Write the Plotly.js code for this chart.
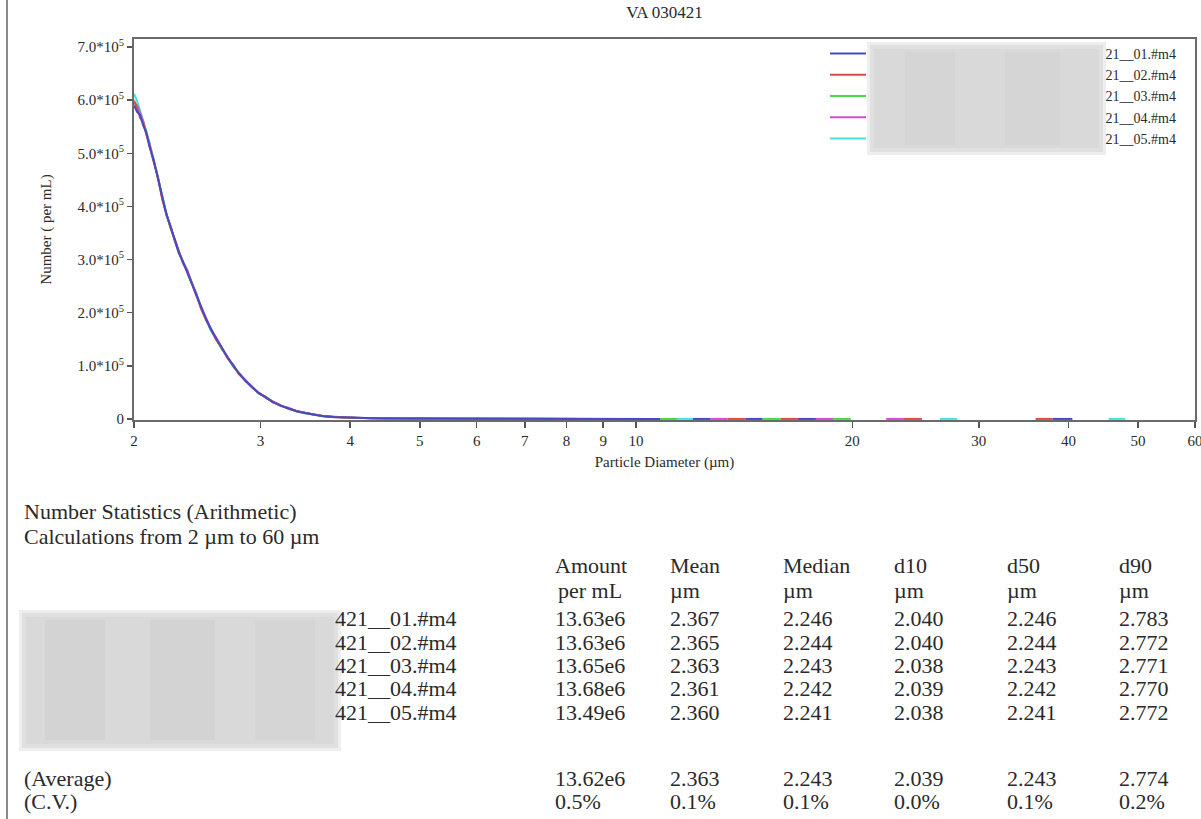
<!DOCTYPE html>
<html>
<head>
<meta charset="utf-8">
<script src="https://cdn.plot.ly/plotly-3.0.1.min.js"></script>
<style>html,body{margin:0;padding:0;background:#fff;}#chart{width:1201px;height:819px;}</style>
</head>
<body>
<div id="chart"></div>
<script>
// ---------- data ----------
const chartTitle = "VA 030421";
const diameters = [2.00,2.02,2.04,2.06,2.08,2.10,2.13,2.16,2.19,2.22,2.25,2.28,2.31,2.34,2.37,2.40,2.44,2.48,2.52,2.56,2.60,2.65,2.70,2.75,2.80,2.86,2.92,2.98,3.05,3.12,3.20,3.28,3.37,3.46,3.56,3.67,3.80,3.95,4.10,4.30,4.50,4.75,5.00,5.30,5.60,6.00,6.40,6.80,7.30,7.80,8.40,9.00,9.60,10.2,
  10.8,11.4,12.0,12.7,13.4,14.2,15.0,15.9,16.8,17.8,18.8,19.9,21,22.3,23.6,25,26.5,28,30,32,34,36,38,40.5,43,45.5,48,51,54,57,60];

const run01 = [590000,578000,572000,552000,540000,514000,487000,450000,416000,384000,361000,335000,312000,296000,277000,260000,235000,209000,188000,168000,153000,132000,116000,100000,86000,72000,60000,49000,41000,32000,25000,20000,14500,11000,8000,5200,3600,2500,1800,1300,1000,900,1100,600,400,300,250,200,150,100,80,60,40,30,
  0,null,0,0,null,0,0,null,0,0,null,null,null,null,null,null,null,null,null,null,null,null,0,0,null,null,null,null,null,null,null];
const run02 = [598000,586000,566000,558000,536000,518000,484000,454000,413000,387000,358000,338000,316000,293000,280000,262000,236000,207000,186000,170000,150000,134000,115000,101000,84000,73000,59000,50000,40000,33000,26000,19000,15000,11500,8500,5500,3400,2600,1700,1200,1100,800,800,600,450,300,200,200,150,100,50,null,50,null,
  null,null,null,null,0,0,null,0,0,null,null,null,null,null,0,0,null,null,null,null,null,0,0,null,null,null,null,null,null,null,null];
const run03 = [600000,584000,570000,556000,542000,516000,489000,452000,418000,385000,360000,336000,311000,297000,276000,258000,238000,210000,187000,167000,152000,131000,117000,99000,87000,71000,61000,48000,42000,32000,25000,20000,14000,10500,7800,5000,3700,2400,1900,1300,900,900,900,500,400,250,250,150,100,100,80,50,null,30,
  0,0,null,null,null,null,0,0,null,null,0,0,null,null,null,null,null,null,null,null,null,null,null,null,null,null,null,null,null,null,null];
const run04 = [596000,590000,575000,560000,538000,520000,486000,455000,415000,383000,362000,334000,314000,295000,282000,261000,233000,211000,190000,169000,154000,135000,114000,102000,85000,72000,60000,49000,41000,31000,25000,21000,14500,11000,8200,5300,3500,2500,1800,1400,1000,800,800,700,350,300,200,200,150,100,50,60,40,null,
  null,null,null,0,0,null,null,null,null,0,0,null,null,0,0,null,null,null,null,null,null,null,null,null,null,null,null,null,null,null,null];
const run05 = [612000,598000,580000,562000,544000,522000,488000,453000,417000,386000,359000,337000,313000,294000,278000,259000,237000,208000,185000,166000,151000,133000,116000,98000,86000,71000,59000,49000,40000,32000,24000,20000,14000,11000,8000,5100,3600,2600,1700,1200,1000,900,700,600,400,300,200,150,100,100,80,null,50,30,
  null,0,0,null,null,null,null,null,null,null,null,null,null,null,null,null,0,0,null,null,null,null,null,null,null,0,0,null,null,null,null];

const seriesNames = ["21__01.#m4","21__02.#m4","21__03.#m4","21__04.#m4","21__05.#m4"];
const seriesValues = [run01, run02, run03, run04, run05];
const seriesColors = ["#4848c8","#e04848","#48d848","#d848d8","#48e0e0"];

const yTickVals = [0,100000,200000,300000,400000,500000,600000,700000];
const yTickText = ["0","1.0*10<sup>5</sup>","2.0*10<sup>5</sup>","3.0*10<sup>5</sup>","4.0*10<sup>5</sup>","5.0*10<sup>5</sup>","6.0*10<sup>5</sup>","7.0*10<sup>5</sup>"];
const xTickVals = [2,3,4,5,6,7,8,9,10,20,30,40,50,60];
const xTickText = ["2","3","4","5","6","7","8","9","10","20","30","40","50","60"];

// statistics table
const statsTitle = "Number Statistics (Arithmetic)";
const statsRange = "Calculations from 2 µm to 60 µm";
const colHeaders = ["Amount","Mean","Median","d10","d50","d90"];
const colUnits = ["per mL","µm","µm","µm","µm","µm"];
const rowLabels = ["421__01.#m4","421__02.#m4","421__03.#m4","421__04.#m4","421__05.#m4"];
const amounts = ["13.63e6","13.63e6","13.65e6","13.68e6","13.49e6"];
const means   = ["2.367","2.365","2.363","2.361","2.360"];
const medians = ["2.246","2.244","2.243","2.242","2.241"];
const d10s    = ["2.040","2.040","2.038","2.039","2.038"];
const d50s    = ["2.246","2.244","2.243","2.242","2.241"];
const d90s    = ["2.783","2.772","2.771","2.770","2.772"];
const averageRow = ["13.62e6","2.363","2.243","2.039","2.243","2.774"];
const cvRow      = ["0.5%","0.1%","0.1%","0.0%","0.1%","0.2%"];

// ---------- layout helpers ----------
const W = 1201, H = 819;
const PL = 134, PR = 1195, PT = 39, PB = 420;
const px = x => (x - PL) / (PR - PL);
const py = y => (PB - y) / (PB - PT);
const SERIF = "Liberation Serif, Times New Roman, serif";
const TXT = "#2a2a2a";
const NB = "\u00A0";
const legendPad = NB.repeat(67);

// traces: draw 05 first so that 01 (blue) is on top
const traces = [];
for (let i = seriesNames.length - 1; i >= 0; i--) {
  traces.push({
    type: "scatter", mode: "lines",
    x: diameters, y: seriesValues[i],
    name: legendPad + seriesNames[i],
    legendrank: i + 1,
    line: {color: seriesColors[i], width: 2},
    connectgaps: false
  });
}

const TF = 22;
const annotations = [];
function txt(text, x, y, size) {
  annotations.push({text: text, xref: "paper", yref: "paper", x: px(x), y: py(y),
    xanchor: "left", yanchor: "middle", showarrow: false,
    font: {family: SERIF, size: size, color: TXT}});
}
txt(statsTitle, 22, 511, TF);
txt(statsRange, 22, 536, TF);
const colX = [553, 668, 781, 892, 1005, 1117];
const cols = [amounts, means, medians, d10s, d50s, d90s];
const rowY = [618, 642, 665, 688, 712];
colHeaders.forEach((h, c) => txt(h, colX[c], 565, TF));
colUnits.forEach((u, c) => txt(u, colX[c] + (c === 0 ? 3 : 0), 590, TF));
rowLabels.forEach((l, r) => txt(l, 333, rowY[r], TF));
cols.forEach((col, c) => col.forEach((v, r) => txt(v, colX[c], rowY[r], TF)));
txt("(Average)", 22, 778, TF);
txt("(C.V.)", 22, 801, TF);
averageRow.forEach((v, c) => txt(v, colX[c], 778, TF));
cvRow.forEach((v, c) => txt(v, colX[c], 801, TF));

function rect(x0, y0, x1, y1, color, opacity) {
  return {type: "rect", xref: "paper", yref: "paper", x0: px(x0), x1: px(x1), y0: py(y1), y1: py(y0),
    fillcolor: color, opacity: opacity, line: {width: 0}, layer: "below"};
}
const shapes = [
  // page border on the left
  {type: "line", xref: "paper", yref: "paper", x0: px(7), x1: px(7), y0: py(819), y1: py(0),
   line: {color: "#8a8a8a", width: 2}},
  // blurred (anonymised) regions
  rect(867, 42, 1106, 155, "#eeeeee", 1),
  rect(870, 45, 1103, 152, "#e0e0e0", 1),
  rect(874, 49, 1099, 148, "#d9d9d9", 1),
  rect(905, 52, 955, 145, "#d0d0d0", 0.45),
  rect(1005, 52, 1060, 145, "#d0d0d0", 0.45),
  rect(19, 610, 341, 751, "#eeeeee", 1),
  rect(22, 613, 338, 748, "#e0e0e0", 1),
  rect(26, 617, 334, 744, "#d9d9d9", 1),
  rect(45, 620, 105, 740, "#cccccc", 0.45),
  rect(150, 620, 215, 740, "#cccccc", 0.45),
  rect(255, 620, 315, 740, "#d0d0d0", 0.4)
];

const layout = {
  width: W, height: H, autosize: false,
  paper_bgcolor: "#fff", plot_bgcolor: "#fff",
  margin: {l: PL, r: W - PR, t: PT, b: H - PB, pad: 0},
  font: {family: SERIF, color: TXT, size: 15},
  title: {text: chartTitle, x: 0.5, xref: "paper", xanchor: "center", y: 1 - 12 / H, yref: "container", yanchor: "middle",
    font: {family: SERIF, size: 17, color: TXT}},
  xaxis: {type: "log", range: [Math.log10(2), Math.log10(60)], tickmode: "array", tickvals: xTickVals, ticktext: xTickText,
    ticks: "outside", ticklen: 6, tickwidth: 1.5, tickcolor: "#555", showline: true, linecolor: "#6a6a6a", linewidth: 2,
    mirror: true, showgrid: false, zeroline: false, layer: "below traces", ticklabeloverflow: "allow",
    tickfont: {family: SERIF, size: 15, color: TXT},
    title: {text: "Particle Diameter (µm)", standoff: 8, font: {family: SERIF, size: 15, color: TXT}}},
  yaxis: {range: [-2000, 715000], tickmode: "array", tickvals: yTickVals, ticktext: yTickText,
    ticks: "outside", ticklen: 5, tickwidth: 1.5, tickcolor: "#555", showline: true, linecolor: "#6a6a6a", linewidth: 2,
    mirror: true, showgrid: false, zeroline: false, layer: "below traces",
    tickfont: {family: SERIF, size: 15, color: TXT},
    title: {text: "Number ( per mL)", standoff: 22, font: {family: SERIF, size: 15, color: TXT}}},
  showlegend: true,
  legend: {x: px(825), xanchor: "left", y: py(38), yanchor: "top", bgcolor: "rgba(0,0,0,0)", borderwidth: 0,
    itemwidth: 36, traceorder: "normal", font: {family: SERIF, size: 14, color: TXT}},
  shapes: shapes,
  annotations: annotations
};

Plotly.newPlot("chart", traces, layout, {displayModeBar: false, staticPlot: true});
</script>
</body>
</html>
